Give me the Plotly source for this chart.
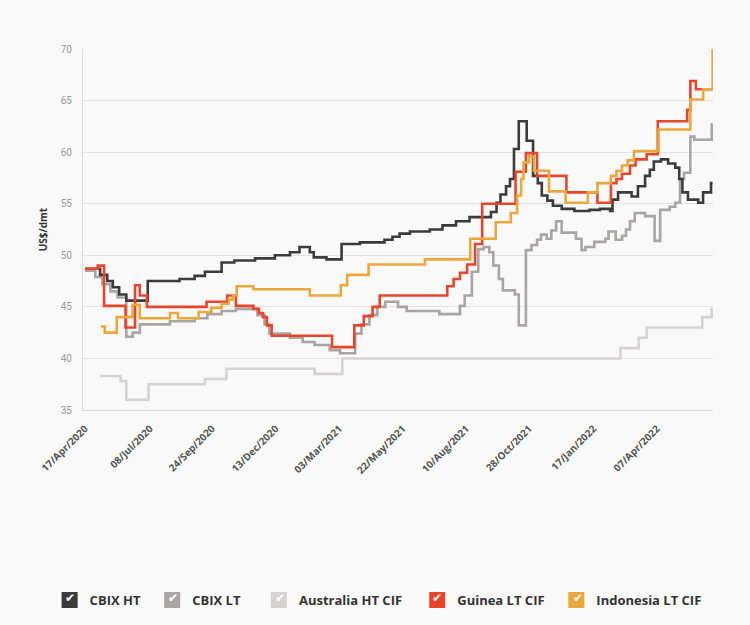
import plotly.graph_objects as go

# ---------------- data (step change points) ----------------
cbix_ht_dates = ["2020-04-17","2020-05-06","2020-05-15","2020-05-22","2020-05-30","2020-06-08","2020-07-05",
    "2020-08-14","2020-09-02","2020-09-15","2020-10-06","2020-10-22","2020-11-17","2020-12-12","2020-12-31",
    "2021-01-12","2021-01-25","2021-01-30","2021-02-15","2021-03-06","2021-03-29","2021-04-29","2021-05-09",
    "2021-05-18","2021-05-31","2021-06-25","2021-07-11","2021-07-28","2021-08-14","2021-09-10","2021-09-17",
    "2021-09-22","2021-09-29","2021-10-04","2021-10-09","2021-10-15","2021-10-25","2021-11-02","2021-11-08",
    "2021-11-13","2021-11-20","2021-11-27","2021-12-08","2021-12-24","2022-01-12","2022-01-25","2022-02-07",
    "2022-02-10","2022-02-17","2022-03-06","2022-03-14","2022-03-23","2022-03-29","2022-04-03","2022-04-12",
    "2022-04-21","2022-04-30","2022-05-05","2022-05-09","2022-05-16","2022-05-29","2022-06-04","2022-06-14",
    "2022-06-16"]
cbix_ht_values = [48.7,48.1,47.5,46.9,46.2,45.6,47.5,
    47.7,48.0,48.4,49.3,49.5,49.7,50.0,50.3,
    50.8,50.3,49.8,49.6,51.1,51.25,51.5,51.8,
    52.1,52.3,52.5,52.9,53.3,53.7,54.2,55.1,
    55.9,56.7,57.4,60.3,63.0,61.1,57.7,57.0,
    55.8,55.3,54.8,54.5,54.3,54.4,54.5,54.3,
    55.4,56.1,55.7,56.7,57.7,58.3,59.1,59.3,
    58.9,58.5,57.4,56.1,55.4,55.1,56.1,57.0,
    57.0]

cbix_lt_dates = ["2020-04-17","2020-04-30","2020-05-09","2020-05-19","2020-05-28","2020-06-08","2020-06-16",
    "2020-06-25","2020-08-02","2020-09-02","2020-09-18","2020-10-06","2020-10-24","2020-11-20","2020-11-29",
    "2020-12-05","2020-12-31","2021-01-16","2021-01-31","2021-02-19","2021-03-04","2021-03-23","2021-03-31",
    "2021-04-10","2021-04-20","2021-04-30","2021-05-16","2021-05-27","2021-07-07","2021-08-02","2021-08-08",
    "2021-08-17","2021-08-25","2021-09-01","2021-09-08","2021-09-13","2021-09-20","2021-09-25","2021-10-10",
    "2021-10-15","2021-10-24","2021-10-31","2021-11-07","2021-11-12","2021-11-19","2021-11-25","2021-12-01",
    "2021-12-08","2021-12-26","2022-01-02","2022-01-07","2022-01-18","2022-02-01","2022-02-05","2022-02-14",
    "2022-02-22","2022-02-27","2022-03-04","2022-03-10","2022-03-23","2022-04-04","2022-04-11","2022-04-23",
    "2022-04-30","2022-05-06","2022-05-11","2022-05-19","2022-05-24","2022-06-15","2022-06-16"]
cbix_lt_values = [48.5,47.9,47.2,46.5,45.9,42.1,42.5,
    43.3,43.6,43.9,44.3,44.6,44.8,44.2,43.3,
    42.4,42.0,41.6,41.3,40.8,40.5,42.4,43.3,
    44.2,45.0,45.5,45.0,44.6,44.3,45.1,46.1,
    48.4,50.6,50.8,50.3,49.0,47.7,46.6,46.2,
    43.2,50.5,51.0,51.5,52.0,51.6,52.4,53.3,
    52.2,51.6,50.5,50.8,51.3,51.6,52.3,51.5,
    51.9,52.5,53.3,54.1,53.8,51.4,54.4,54.7,
    55.1,57.4,58.0,61.5,61.2,62.7,62.7]

australia_dates = ["2020-05-06","2020-06-01","2020-06-08","2020-07-06","2020-09-15","2020-10-12","2021-01-31",
    "2021-03-07","2022-02-20","2022-03-15","2022-03-25","2022-06-03","2022-06-15","2022-06-16"]
australia_values = [38.3,37.8,36.0,37.5,38.0,39.0,38.5,
    40.0,41.0,42.0,43.0,44.0,44.8,44.8]

guinea_dates = ["2020-04-17","2020-05-03","2020-05-11","2020-06-07","2020-06-19","2020-06-25","2020-07-04",
    "2020-09-17","2020-10-13","2020-10-24","2020-11-15","2020-11-22","2020-11-27","2020-12-02","2020-12-08",
    "2021-02-22","2021-03-22","2021-04-03","2021-04-14","2021-04-23","2021-07-17","2021-07-25","2021-08-02",
    "2021-08-11","2021-08-21","2021-08-30","2021-10-11","2021-10-24","2021-11-07","2021-12-14","2022-01-22",
    "2022-02-08","2022-02-15","2022-02-22","2022-03-04","2022-03-11","2022-03-25","2022-04-08","2022-05-15",
    "2022-05-19","2022-05-26","2022-06-16"]
guinea_values = [48.7,49.0,45.1,43.0,47.1,46.1,45.0,
    45.5,46.1,45.1,44.8,44.4,44.0,43.2,42.2,
    41.1,43.2,44.1,45.0,46.1,47.0,47.7,48.3,
    49.1,51.1,55.0,58.1,59.9,57.7,56.1,55.1,
    57.0,57.4,57.9,58.7,59.3,59.8,63.0,64.1,
    66.9,66.1,66.1]

indonesia_dates = ["2020-05-07","2020-05-12","2020-05-27","2020-06-16","2020-06-25","2020-08-02","2020-08-12",
    "2020-09-07","2020-09-23","2020-10-06","2020-10-15","2020-10-20","2020-10-25","2020-11-15","2021-01-25",
    "2021-03-05","2021-03-13","2021-04-09","2021-06-19","2021-08-15","2021-09-16","2021-10-05","2021-10-13",
    "2021-10-18","2021-10-21","2021-10-28","2021-11-03","2021-11-22","2021-12-13","2022-01-10","2022-01-22",
    "2022-02-08","2022-02-15","2022-02-22","2022-03-01","2022-03-09","2022-04-09","2022-05-19","2022-06-04",
    "2022-06-16"]
indonesia_values = [43.1,42.5,44.0,45.2,43.9,44.4,43.9,
    44.5,44.9,45.3,45.7,46.1,47.0,46.7,46.1,
    47.1,48.1,49.1,49.6,51.6,53.2,54.1,55.8,
    57.4,59.0,59.6,58.2,56.2,55.1,56.1,57.0,
    57.7,58.2,58.7,59.2,60.1,62.2,65.1,66.1,
    70.0]

series_names = ["CBIX HT", "CBIX LT", "Australia HT CIF", "Guinea LT CIF", "Indonesia LT CIF"]
series_colors = ["#3b3b3b", "#a9a5a5", "#d5d2d2", "#e8462b", "#eaa83c"]

tick_dates = ["2020-04-17","2020-07-08","2020-09-24","2020-12-13","2021-03-03","2021-05-22",
              "2021-08-10","2021-10-28","2022-01-17","2022-04-07"]
tick_labels = ["17/Apr/2020","08/Jul/2020","24/Sep/2020","13/Dec/2020","03/Mar/2021","22/May/2021",
               "10/Aug/2021","28/Oct/2021","17/Jan/2022","07/Apr/2022"]

y_ticks = [35, 40, 45, 50, 55, 60, 65, 70]

# ---------------- figure ----------------
fig = go.Figure()
all_dates = [cbix_ht_dates, cbix_lt_dates, australia_dates, guinea_dates, indonesia_dates]
all_values = [cbix_ht_values, cbix_lt_values, australia_values, guinea_values, indonesia_values]

draw_order = [2, 1, 0, 3, 4]
for i in draw_order:
    fig.add_trace(go.Scatter(
        x=all_dates[i], y=all_values[i], mode="lines", line_shape="hv",
        line=dict(color=series_colors[i], width=2.6),
        name=series_names[i], showlegend=False, hoverinfo="skip"))

# legend entries (square swatches); trailing no-break spaces widen the gaps
legend_pad = [2, 4, 3, 2, 0]
for name, color, pad in zip(series_names, series_colors, legend_pad):
    fig.add_trace(go.Scatter(
        x=[None], y=[None], mode="markers", name=name + "\u00a0" * pad,
        marker=dict(symbol="square", size=18, color=color)))

# white check marks drawn on the legend swatches (pixel centres of swatches)
check_px = [70.0, 173.0, 280.0, 437.0, 578.0]
plot_left, plot_w, plot_bottom, plot_h = 83, 630, 411, 362
for cx in check_px:
    fig.add_annotation(text="\u2714", xref="paper", yref="paper",
                       x=(cx - plot_left) / plot_w, y=(plot_bottom - 600) / plot_h,
                       showarrow=False, xanchor="center", yanchor="middle",
                       font=dict(size=12, color="white", family="DejaVu Sans"))

bg = "#f9f9f9"
fig.update_layout(
    width=750, height=625,
    margin=dict(l=83, r=37, t=49, b=214),
    paper_bgcolor=bg, plot_bgcolor=bg,
    font=dict(family="'Open Sans', Roboto, sans-serif", color="#333"),
    legend=dict(orientation="h", x=-0.053, y=-0.522, xanchor="left", yanchor="middle",
                font=dict(size=13, color="#333", weight="bold"),
                itemsizing="trace", traceorder="normal", bgcolor="rgba(0,0,0,0)"),
    xaxis=dict(type="date", range=["2020-04-14 12:00", "2022-06-16 12:00"],
               tickmode="array", tickvals=tick_dates, ticktext=tick_labels,
               tickangle=-45, tickfont=dict(size=10, color="#555", weight="bold"),
               showgrid=False, zeroline=False, showline=True, linecolor="#dcdcdc", linewidth=1,
               ticks="", ticklabelstandoff=8),
    yaxis=dict(range=[35, 70], tickmode="array", tickvals=y_ticks,
               tickfont=dict(size=10, color="#9a9a9a", family="Roboto, sans-serif"),
               showgrid=True, gridcolor="#e2e2e2", gridwidth=1, zeroline=False,
               showline=True, linecolor="#dcdcdc", linewidth=1, ticks="", ticklabelstandoff=8,
               title=dict(text="US$/dmt", font=dict(size=10, color="#333", weight="bold"), standoff=11)),
)

fig.write_html("out.html", config={"displayModeBar": False},
               post_script="document.body.style.margin='0';document.body.style.background='%s';" % bg)
